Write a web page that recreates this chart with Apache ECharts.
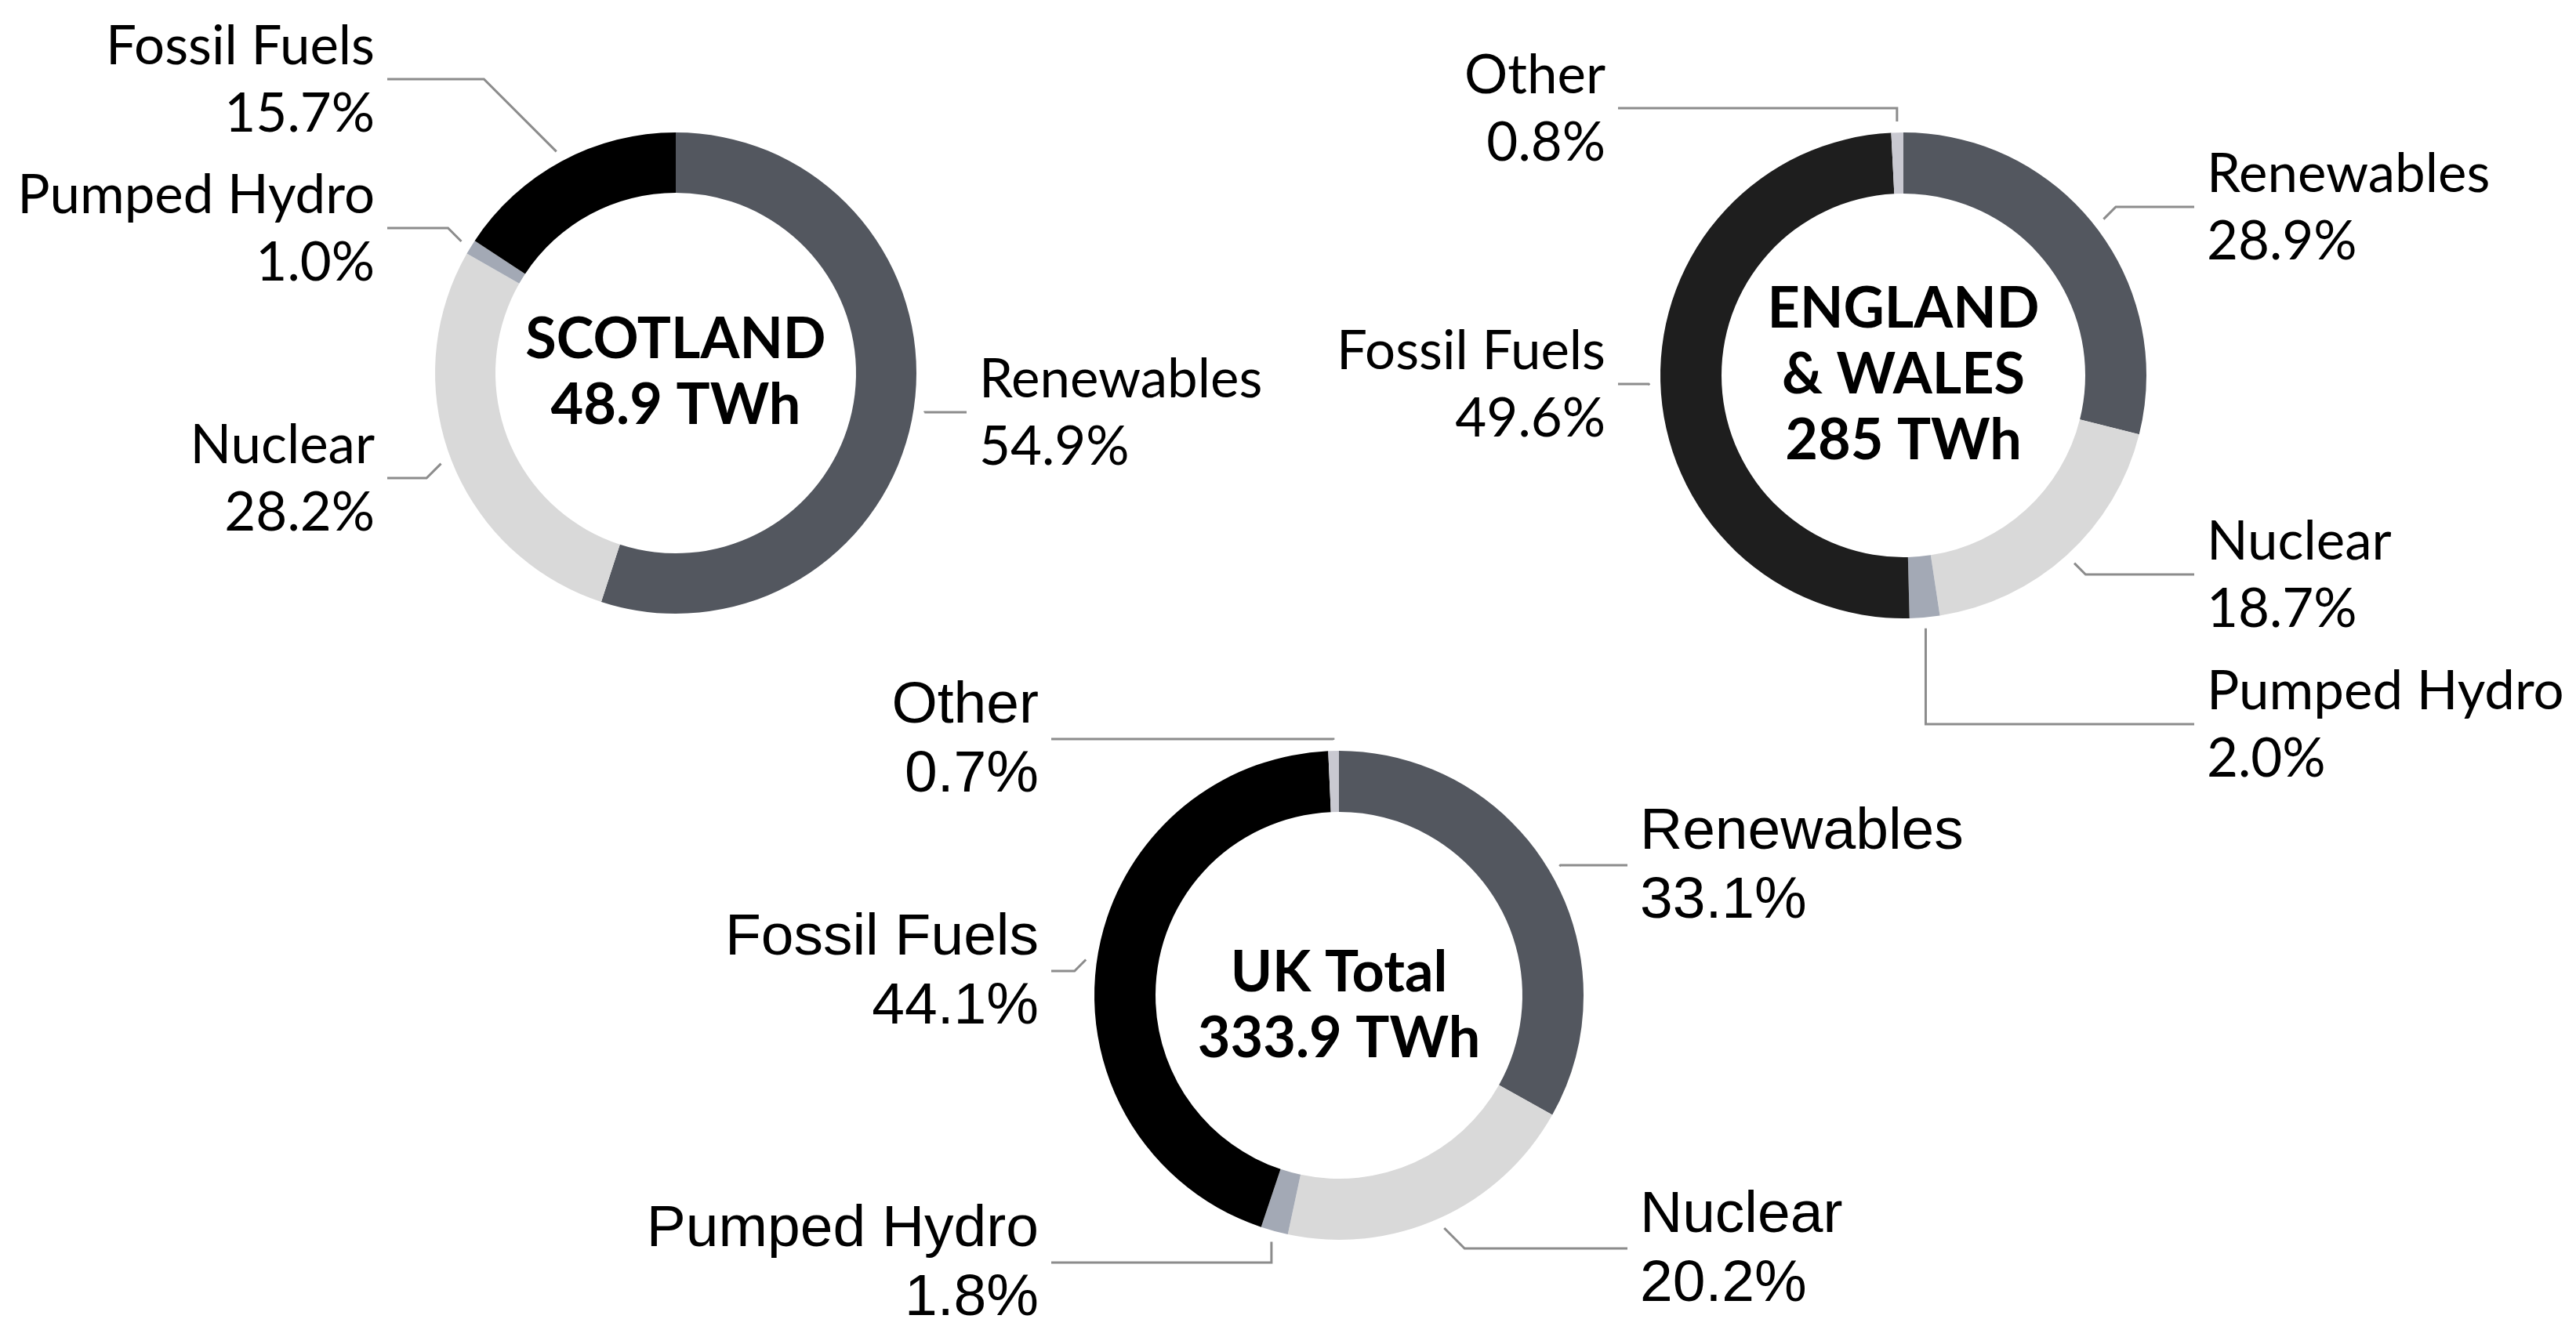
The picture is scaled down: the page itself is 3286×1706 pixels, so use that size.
<!DOCTYPE html>
<html>
<head>
<meta charset="utf-8">
<script src="https://cdn.jsdelivr.net/npm/echarts@6/dist/echarts.min.js"></script>
<style>
  html, body { margin: 0; padding: 0; background: #fff; }
  #chart { width: 3286px; height: 1706px; }
</style>
</head>
<body>
<div id="chart"></div>
<script>
// shares of generation, clockwise from 12 o'clock
const sources = ["Renewables", "Nuclear", "Pumped Hydro", "Fossil Fuels", "Other"];
const scotland = [54.9, 28.2, 1.0, 15.7, null];
const englandWales = [28.9, 18.7, 2.0, 49.6, 0.8];
const ukTotal = [33.1, 20.2, 1.8, 44.1, 0.7];
const centreTexts = ["SCOTLAND\n48.9 TWh", "ENGLAND\n& WALES\n285 TWh", "UK Total\n333.9 TWh"];

// colours per source
const sourceColors = {
  "Renewables": "#53575f",
  "Nuclear": "#d9d9d9",
  "Pumped Hydro": "#a3a9b5",
  "Fossil Fuels": "#000000",
  "Other": "#c9c9d1"
};

// where each donut sits and where its labels go (text edge x, leader y, bend type)
const panels = [
  {
    center: [862, 476], radius: [230, 307], font: "Lato", size: 69, lh: 86,
    labels: {
      "Renewables": [1249, 526, "diag"],
      "Nuclear": [478, 610, "diag"],
      "Pumped Hydro": [478, 291, "diag"],
      "Fossil Fuels": [478, 101, "diag"]
    }
  },
  {
    center: [2428, 479], radius: [232, 310], font: "Lato", size: 69, lh: 86,
    fossil: "#1e1e1e",
    labels: {
      "Renewables": [2815, 264, "diag"],
      "Nuclear": [2815, 733, "diag"],
      "Pumped Hydro": [2815, 924, "vert"],
      "Fossil Fuels": [2048, 490, "diag"],
      "Other": [2048, 138, "vert"]
    }
  },
  {
    center: [1708, 1270], radius: [234, 312], font: "Liberation Sans", size: 75, lh: 88,
    labels: {
      "Renewables": [2092, 1104, "diag"],
      "Nuclear": [2092, 1593, "diag"],
      "Pumped Hydro": [1325, 1611, "vert"],
      "Fossil Fuels": [1325, 1239, "diag"],
      "Other": [1325, 943, "vert"]
    }
  }
];

const regionValues = [scotland, englandWales, ukTotal];

function buildData(values, panel) {
  let list = [];
  values.forEach(function (v, i) {
    if (v === null) return;
    let name = sources[i];
    let color = sourceColors[name];
    if (name === "Fossil Fuels" && panel.fossil) color = panel.fossil;
    list.push({ name: name, value: v, itemStyle: { color: color } });
  });
  return list;
}

function makeLayout(panel, names) {
  return function (params) {
    let cfg = panel.labels[names[params.dataIndex]];
    let p0 = params.labelLinePoints[0];
    let cx = panel.center[0], cy = panel.center[1];
    let dx = p0[0] - cx, dy = p0[1] - cy;
    let len = Math.sqrt(dx * dx + dy * dy);
    let gap = 14;
    let sx = p0[0] + dx / len * gap;
    let sy = p0[1] + dy / len * gap;
    let tx = cfg[0], ly = cfg[1];
    let right = tx > cx;
    let endX = right ? tx - 16 : tx + 16;
    let bx;
    if (cfg[2] === "vert") {
      bx = sx;
    } else {
      bx = sx + (right ? 1 : -1) * Math.abs(ly - sy);
    }
    return {
      x: tx,
      y: ly + 2,
      align: right ? "left" : "right",
      verticalAlign: "middle",
      labelLinePoints: [[sx, sy], [bx, ly], [endX, ly]]
    };
  };
}

let chart = echarts.init(document.getElementById("chart"));

let series = panels.map(function (panel, k) {
  let data = buildData(regionValues[k], panel);
  let names = data.map(function (d) { return d.name; });
  return {
    type: "pie",
    center: panel.center,
    radius: panel.radius,
    startAngle: 90,
    clockwise: true,
    silent: true,
    animation: false,
    data: data,
    label: {
      show: true,
      position: "outer",
      fontFamily: panel.font,
      fontSize: panel.size,
      lineHeight: panel.lh,
      color: "#000",
      formatter: function (p) {
        return p.name + "\n" + p.value.toFixed(1) + "%";
      }
    },
    labelLine: {
      show: true,
      lineStyle: { color: "#8c8c8c", width: 3 }
    },
    labelLayout: makeLayout(panel, names)
  };
});

let graphics = panels.map(function (panel, k) {
  return {
    type: "text",
    x: panel.center[0],
    y: panel.center[1] + (k === 2 ? 14 : 0),
    silent: true,
    style: {
      text: centreTexts[k],
      fill: "#000",
      font: "bold 72px Lato",
      lineHeight: 84,
      align: "center",
      verticalAlign: "middle"
    }
  };
});

chart.setOption({
  backgroundColor: "#fff",
  animation: false,
  series: series,
  graphic: graphics
});
</script>
</body>
</html>
